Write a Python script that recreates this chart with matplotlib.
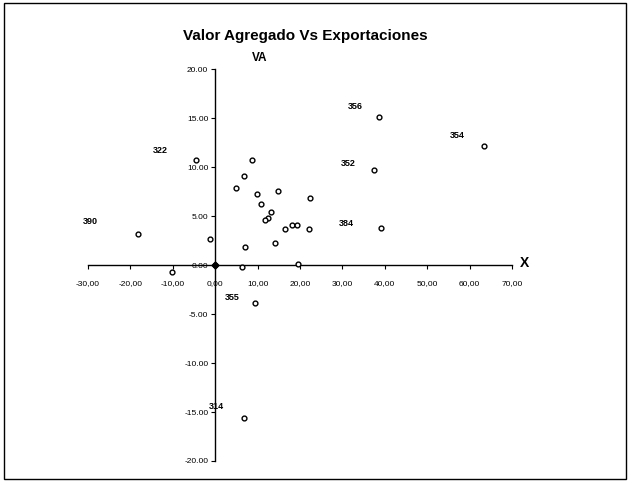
import matplotlib
matplotlib.use("Agg")
import matplotlib.pyplot as plt
from matplotlib.patches import Rectangle
from matplotlib.ticker import FuncFormatter

plt.rcParams.update({
    "font.family": ["Liberation Sans", "DejaVu Sans"],
    "font.size": 7,
})

# exportaciones (X) vs valor agregado (VA)
x_vals = [-4.6, 8.7, 6.8, 5.0, 9.9, 14.7, 10.9, 22.3, 13.1, 12.5, 11.8, 18.1, 19.2,
          16.4, 22.1, 14.2, 7.1, -1.2, -18.1, -10.2, 6.4, 19.6, 0.0,
          38.7, 63.3, 37.5, 39.1, 9.5, 6.8]
y_vals = [10.7, 10.7, 9.1, 7.9, 7.3, 7.6, 6.2, 6.8, 5.4, 4.8, 4.6, 4.1, 4.1,
          3.7, 3.7, 2.3, 1.8, 2.7, 3.2, -0.7, -0.2, 0.06, 0.0,
          15.1, 12.2, 9.7, 3.8, -3.9, -15.6]

labels = ["322", "390", "356", "354", "352", "384", "355", "314"]
label_x = [-4.6, -18.1, 38.7, 63.3, 37.5, 39.1, 9.5, 6.8]
label_y = [10.7, 3.2, 15.1, 12.2, 9.7, 3.8, -3.9, -15.6]
label_dx = [-31, -40, -23, -24, -24, -30, -22, -25]
label_dy = [7, 9, 8, 7, 5, 3, 4, 8]

x_ticks = [-30, -20, -10, 0, 10, 20, 30, 40, 50, 60, 70]
y_ticks = [-20, -15, -10, -5, 0, 5, 10, 15, 20]

fig = plt.figure(figsize=(6.3, 4.82), dpi=100)
fig.patches.append(Rectangle((0.006, 0.006), 0.988, 0.988, transform=fig.transFigure,
                             fill=False, edgecolor="black", linewidth=1.0))
ax = fig.add_axes([0.1397, 0.0436, 0.6730, 0.8130])

ax.scatter(x_vals, y_vals, s=12, facecolor="white", edgecolor="black", linewidth=1.0,
           zorder=3)
ax.scatter([0], [0], s=12, marker="D", color="black", zorder=4)

for lab, lx, ly, dx, dy in zip(labels, label_x, label_y, label_dx, label_dy):
    ax.annotate(lab, (lx, ly), xytext=(dx, dy), textcoords="offset points",
                fontsize=6.5, fontweight="bold", ha="left", va="center")

ax.set_xlim(-30, 70)
ax.set_ylim(-20, 20)
ax.spines["left"].set_position(("data", 0))
ax.spines["bottom"].set_position(("data", 0))
ax.spines["right"].set_visible(False)
ax.spines["top"].set_visible(False)
ax.spines["left"].set_linewidth(1.0)
ax.spines["bottom"].set_linewidth(1.0)
ax.set_xticks(x_ticks)
ax.set_yticks(y_ticks)
ax.xaxis.set_major_formatter(FuncFormatter(lambda v, p: f"{v:.2f}".replace(".", ",")))
ax.yaxis.set_major_formatter(FuncFormatter(lambda v, p: f"{v:.2f}"))
ax.tick_params(axis="x", direction="out", length=3, pad=8, labelsize=6)
ax.tick_params(axis="y", direction="out", length=3, pad=2, labelsize=6)
ax.patch.set_visible(False)

fig.text(260 / 630, 1 - 58 / 482, "VA", fontsize=8.5, fontweight="bold",
         ha="center", va="center")
fig.text(525 / 630, 1 - 263 / 482, "X", fontsize=10, fontweight="bold",
         ha="center", va="center")
fig.text(0.485, 0.925, "Valor Agregado Vs Exportaciones", fontsize=11,
         fontweight="bold", ha="center", va="center")

fig.savefig("out.png", dpi=100)
